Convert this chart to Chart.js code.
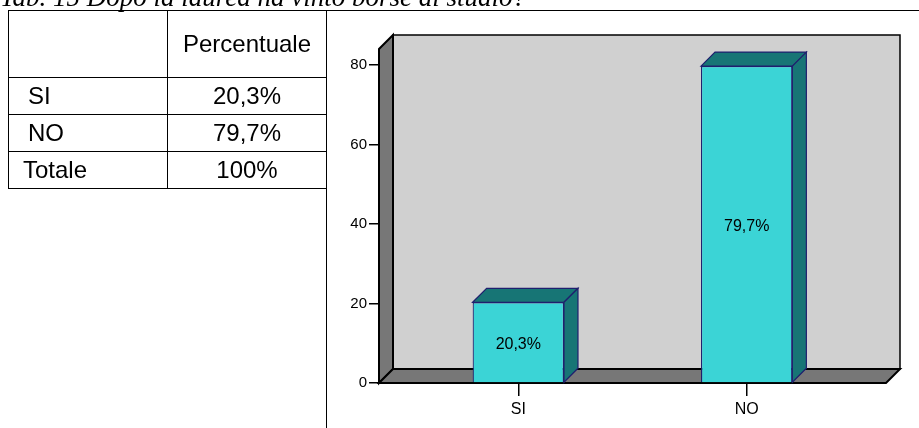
<!DOCTYPE html>
<html>
<head>
<meta charset="utf-8">
<script src="https://cdn.jsdelivr.net/npm/chart.js@4"></script>
<style>
	html, body { margin: 0; padding: 0; background: #fff; }
	#wrap { position: relative; width: 919px; height: 428px; overflow: hidden; }
	#chart { position: absolute; left: 0; top: 0; }
	.title {
		position: absolute; left: 0; top: -16px; white-space: nowrap;
		font: italic 27px "Liberation Serif", "DejaVu Serif", serif; line-height: 27px;
	}
	.hline { position: absolute; left: 8px; top: 10px; width: 911px; height: 1px; background: #000; }
	.vline { position: absolute; left: 326px; top: 10px; width: 1px; height: 418px; background: #000; }
	table {
		position: absolute; left: 8px; top: 10px; border-collapse: collapse;
		font: 24px "Liberation Sans", Arial, sans-serif; color: #000;
	}
	td { border: 1px solid #000; padding: 0; line-height: 26px; }
	td.c1 { width: 159px; padding-left: 19px; box-sizing: border-box; }
	td.c2 { width: 158px; text-align: center; }
</style>
</head>
<body>
<div id="wrap">
	<canvas id="chart" width="919" height="428"></canvas>
	<div class="title">Tab. 15 Dopo la laurea ha vinto borse di studio?</div>
	<table id="tbl"></table>
	<div class="hline"></div>
	<div class="vline"></div>
</div>
<script>
const categories = ['SI', 'NO'];
const percentages = [20.3, 79.7];
const tableRows = ['SI', 'NO', 'Totale'];
const tableValues = ['20,3%', '79,7%', '100%'];
const yTicks = [0, 20, 40, 60, 80];

// tabella a sinistra
const tbl = document.getElementById('tbl');
let html = '<tr style="height:67px"><td class="c1"></td><td class="c2">Percentuale</td></tr>';
tableRows.forEach((r, i) => {
	html += '<tr style="height:37px"><td class="c1"' + (r === 'Totale' ? ' style="padding-left:14px"' : '') + '>' + r + '</td><td class="c2">' + tableValues[i] + '</td></tr>';
});
tbl.innerHTML = html;

const DEPTH = 14;
const FONT = '"Liberation Sans", Arial, sans-serif';
const fmt = (v) => v.toFixed(1).replace('.', ',') + '%';

const box3d = {
	id: 'box3d',
	beforeDatasetsDraw(chart) {
		const { ctx, chartArea: a } = chart;
		const d = DEPTH;
		ctx.save();
		ctx.lineJoin = 'miter';
		// parete di fondo
		ctx.fillStyle = '#d0d0d0';
		ctx.strokeStyle = '#000';
		ctx.lineWidth = 1.5;
		ctx.fillRect(a.left + d, a.top - d, a.right - a.left, a.bottom - a.top);
		ctx.strokeRect(a.left + d, a.top - d, a.right - a.left, a.bottom - a.top);
		// parete sinistra
		ctx.fillStyle = '#777777';
		ctx.lineWidth = 2;
		ctx.beginPath();
		ctx.moveTo(a.left, a.top);
		ctx.lineTo(a.left + d, a.top - d);
		ctx.lineTo(a.left + d, a.bottom - d);
		ctx.lineTo(a.left, a.bottom);
		ctx.closePath();
		ctx.fill();
		ctx.stroke();
		// pavimento
		ctx.beginPath();
		ctx.moveTo(a.left, a.bottom);
		ctx.lineTo(a.left + d, a.bottom - d);
		ctx.lineTo(a.right + d, a.bottom - d);
		ctx.lineTo(a.right, a.bottom);
		ctx.closePath();
		ctx.fill();
		ctx.stroke();
		ctx.restore();
	},
	afterDatasetsDraw(chart) {
		const { ctx } = chart;
		const d = DEPTH;
		const meta = chart.getDatasetMeta(0);
		ctx.save();
		meta.data.forEach((bar, i) => {
			const p = bar.getProps(['x', 'y', 'base', 'width'], true);
			const l = p.x - p.width / 2;
			const r = p.x + p.width / 2;
			ctx.fillStyle = '#177575';
			ctx.strokeStyle = '#1f1f6e';
			ctx.lineWidth = 1.2;
			// faccia superiore
			ctx.beginPath();
			ctx.moveTo(l, p.y);
			ctx.lineTo(l + d, p.y - d);
			ctx.lineTo(r + d, p.y - d);
			ctx.lineTo(r, p.y);
			ctx.closePath();
			ctx.fill();
			ctx.stroke();
			// faccia laterale
			ctx.beginPath();
			ctx.moveTo(r, p.y);
			ctx.lineTo(r + d, p.y - d);
			ctx.lineTo(r + d, p.base - d);
			ctx.lineTo(r, p.base);
			ctx.closePath();
			ctx.fill();
			ctx.stroke();
			// etichetta valore
			ctx.fillStyle = '#000';
			ctx.font = '16px ' + FONT;
			ctx.textAlign = 'center';
			ctx.textBaseline = 'middle';
			ctx.fillText(fmt(percentages[i]), p.x, (p.y + p.base) / 2 + 2);
		});
		ctx.restore();
	},
};

const ctx = document.getElementById('chart');
new Chart(ctx, {
	type: 'bar',
	data: {
		datasets: [
			{
				data: percentages.map((v, i) => ({ x: i, y: v })),
				backgroundColor: '#3bd4d6',
				borderColor: '#1f1f6e',
				borderWidth: 1.2,
				barPercentage: 0.4,
				categoryPercentage: 1,
			},
		],
	},
	options: {
		responsive: false,
		animation: false,
		layout: {
			padding: { left: 330, top: 49, right: 33, bottom: 0 },
		},
		plugins: {
			legend: { display: false },
			tooltip: { enabled: false },
		},
		scales: {
			x: {
				type: 'linear',
				min: -0.61,
				max: 1.61,
				offset: false,
				afterBuildTicks: (scale) => {
					scale.ticks = categories.map((c, i) => ({ value: i }));
				},
				afterFit: (scale) => {
					scale.height = 45;
				},
				border: { display: false },
				grid: { offset: false, drawOnChartArea: false, drawTicks: true, tickLength: 13, color: '#000', lineWidth: 1.5 },
				ticks: {
					callback: (v) => categories[v],
					color: '#000',
					padding: 4,
					maxRotation: 0,
					font: { family: FONT, size: 16 },
				},
			},
			y: {
				min: 0,
				max: 84,
				afterBuildTicks: (scale) => {
					scale.ticks = yTicks.map((v) => ({ value: v }));
				},
				afterFit: (scale) => {
					scale.width = 49;
				},
				border: { display: false },
				grid: { drawOnChartArea: false, drawTicks: true, tickLength: 10, color: '#000', lineWidth: 1.5 },
				ticks: {
					color: '#000',
					padding: 2,
					font: { family: FONT, size: 15 },
				},
			},
		},
	},
	plugins: [box3d],
});
</script>
</body>
</html>
